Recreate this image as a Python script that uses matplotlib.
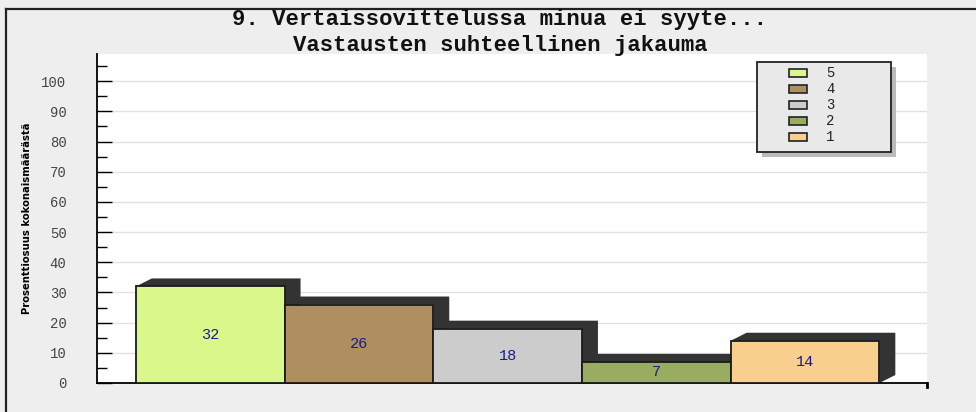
import matplotlib
matplotlib.use('Agg')
import matplotlib.pyplot as plt
from matplotlib.patches import Rectangle, Polygon
from matplotlib.lines import Line2D

title_1 = '9. Vertaissovittelussa minua ei syyte...'
title_2 = 'Vastausten suhteellinen jakauma'
ylabel = 'Prosenttiosuus kokonaismäärästä'

categories = ['5', '4', '3', '2', '1']
values = [32, 26, 18, 7, 14]
colors = ['#d9f78a', '#ad8f60', '#cccccc', '#99ad60', '#f9cf8e']

bg = '#eeeeee'
shadow = '#333333'
mono = ['Liberation Mono', 'DejaVu Sans Mono']

fig = plt.figure(figsize=(9.76, 4.12), dpi=100, facecolor=bg)
ax = fig.add_axes([97 / 976, 1 - 383 / 412, 830 / 976, 329 / 412])
ax.set_facecolor('white')

xs = list(range(len(values)))
ax.set_xlim(-0.5 - 0.262, len(values) - 0.5 + 0.32)
ax.set_ylim(0, 109)

# pseudo 3d shadow behind each bar
dx, dy = 0.107, 2.65
for x, v in zip(xs, values):
    x0, x1 = x - 0.5, x + 0.5
    pts = [(x0, v), (x0 + dx, v + dy), (x1 + dx, v + dy), (x1 + dx, dy), (x1, 0), (x1, v)]
    ax.add_patch(Polygon(pts, closed=True, facecolor=shadow, edgecolor='none', zorder=2))

ax.bar(xs, values, width=1.0, color=colors, edgecolor='#1a1a1a', linewidth=1.3, zorder=3)

for x, v in zip(xs, values):
    ax.text(x, v / 2, str(v), ha='center', va='center', fontsize=11,
            family=mono, color='#1a1a8c', zorder=4)

# grid and ticks
ax.set_yticks(range(0, 101, 10))
ax.set_yticks(range(5, 106, 10), minor=True)
ax.yaxis.grid(True, color='#e2e2e2', linewidth=1, zorder=0)
ax.set_axisbelow(True)
ax.tick_params(axis='y', which='major', direction='in', length=11, width=1, pad=22,
               labelsize=10, labelcolor='#444444')
ax.tick_params(axis='y', which='minor', direction='in', length=7, width=1)
for lab in ax.get_yticklabels():
    lab.set_family(mono)
ax.set_xticks([])

ax.spines['top'].set_visible(False)
ax.spines['right'].set_visible(False)
ax.spines['left'].set_linewidth(1.3)
ax.spines['bottom'].set_linewidth(1.3)
# small end tick on the x axis
ax.plot([1.0, 1.0], [0, -0.012], transform=ax.transAxes, color='black',
        linewidth=2, clip_on=False, zorder=5)

ax.set_ylabel(ylabel, family='DejaVu Sans', fontstretch='condensed',
              fontweight='bold', fontsize=8, va='center')
ax.yaxis.set_label_coords(-70 / 830, 0.5)

# legend box drawn by hand
lx0, lx1 = (757 - 97) / 830, (891 - 97) / 830
ly0, ly1 = (383 - 152) / 329, (383 - 62) / 329
sx, sy = 5 / 830, 5 / 329
ax.add_patch(Rectangle((lx0 + sx, ly0 - sy), lx1 - lx0, ly1 - ly0, transform=ax.transAxes,
                       facecolor='#bbbbbb', edgecolor='none', zorder=6))
ax.add_patch(Rectangle((lx0, ly0), lx1 - lx0, ly1 - ly0, transform=ax.transAxes,
                       facecolor='#e9e9e9', edgecolor='#222222', linewidth=1.3, zorder=7))
step = 16 / 329
for i, (cat, c) in enumerate(zip(categories, colors)):
    cy = (383 - 73) / 329 - i * step
    ax.add_patch(Rectangle(((789 - 97) / 830, cy - 4 / 329), 18 / 830, 8 / 329,
                           transform=ax.transAxes, facecolor=c, edgecolor='#222222',
                           linewidth=1.2, zorder=8))
    ax.text((826 - 97) / 830, cy, cat, transform=ax.transAxes, ha='left', va='center',
            fontsize=10, family=mono, color='#222222', zorder=8)

fig.text(500 / 976, 1 - 19 / 412, title_1, ha='center', va='center',
         fontsize=16, fontweight='bold', family=mono, color='#111111')
fig.text(500 / 976, 1 - 45 / 412, title_2, ha='center', va='center',
         fontsize=16, fontweight='bold', family=mono, color='#111111')

# outer frame lines
fig.add_artist(Line2D([6 / 976, 1], [1 - 9 / 412, 1 - 9 / 412], color='#222222', linewidth=1.6))
fig.add_artist(Line2D([6 / 976, 6 / 976], [0, 1 - 9 / 412], color='#222222', linewidth=1.6))

fig.savefig('out.png', dpi=100, facecolor=bg)
